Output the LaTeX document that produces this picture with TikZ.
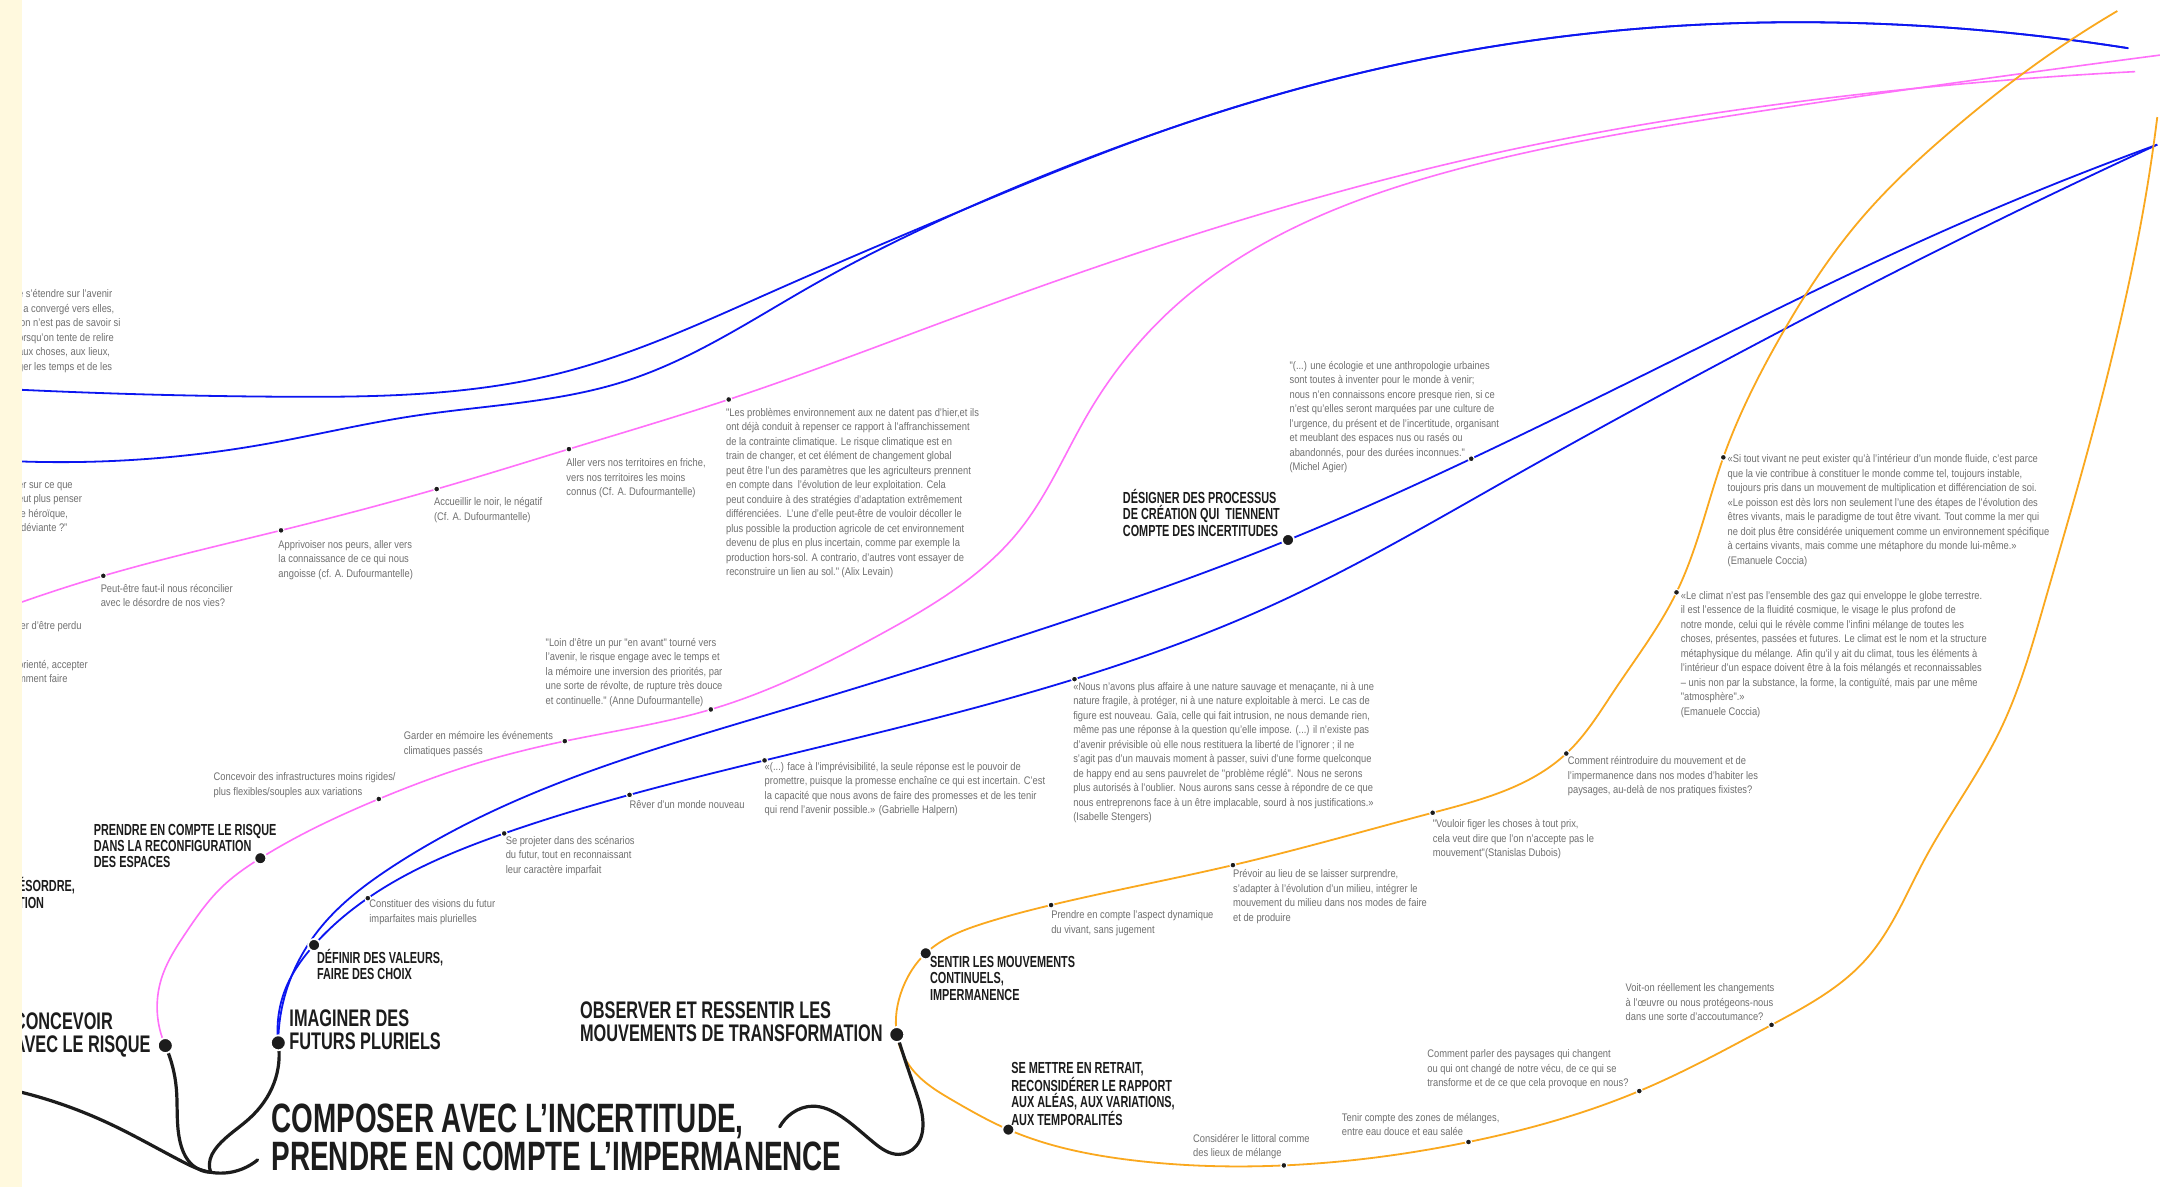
\documentclass[tikz,border=0pt]{standalone}
\usepackage{fontspec}
\usepackage{tikz}
\usetikzlibrary{hobby}
\newfontfamily\notefont[FakeStretch=0.85]{Liberation Sans}
\newfontfamily\headfont[FakeStretch=0.68]{Liberation Sans Bold}
\definecolor{ink}{RGB}{28,28,28}
\definecolor{notegrey}{RGB}{112,112,112}
\definecolor{futurblue}{RGB}{12,22,240}
\definecolor{risquepink}{RGB}{255,112,250}
\definecolor{mouvorange}{RGB}{250,168,30}
\definecolor{marge}{RGB}{255,249,222}
\pgfdeclarelayer{bg}
\pgfdeclarelayer{fg}
\pgfsetlayers{bg,main,fg}

\begin{document}
\begin{tikzpicture}[x=1.3776pt, y=-1.3776pt,
    hub/.style={circle, fill=ink, draw=white, line width=1.8pt, inner sep=0pt, minimum size=15pt},
    pin/.style={circle, fill=ink, draw=white, line width=1.1pt, inner sep=0pt, minimum size=6pt}]
    \tikzset{note/.style={anchor=north west, inner sep=0pt, align=left, text=notegrey, font=\notefont\fontsize{11}{14.5}\selectfont}}
    \tikzset{head/.style={anchor=north west, inner sep=0pt, align=left, text=ink, font=\headfont\fontsize{16}{16.3}\selectfont},
    big/.style={head, font=\headfont\fontsize{24}{22.7}\selectfont},
    futur/.style={draw=futurblue, line width=1.8pt, use Hobby shortcut},
    risque/.style={draw=risquepink, line width=1.6pt, use Hobby shortcut},
    mouv/.style={draw=mouvorange, line width=1.8pt, use Hobby shortcut},
    cord/.style={draw=ink, line width=3.2pt, line cap=round, use Hobby shortcut}}

    \useasboundingbox (0,0) rectangle (1568,862);

    % hubs
    \node[hub] (concevoir) at (120,759) {};
    \node[hub] (imaginer) at (202,757) {};
    \node[hub] (observer) at (651,751) {};
    \node[hub, minimum size=12pt] (prendre) at (189,623) {};
    \node[hub, minimum size=12pt] (definir) at (228,686) {};
    \node[hub, minimum size=12pt] (designer) at (935,392) {};
    \node[hub, minimum size=12pt] (sentir) at (672,692) {};
    \node[hub, minimum size=12pt] (retrait) at (732,820) {};

    % pins
    \node[pin] (k1) at (75,418) {};
    \node[pin] (k2) at (204,385) {};
    \node[pin] (k3) at (317,355) {};
    \node[pin] (k4) at (413,326) {};
    \node[pin] (k5) at (529,290) {};
    \node[pin] (m1) at (275,580) {};
    \node[pin] (m2) at (410,538) {};
    \node[pin] (m3) at (516,515) {};
    \node[pin] (f1) at (267,652) {};
    \node[pin] (f2) at (366,605) {};
    \node[pin] (f3) at (457,577) {};
    \node[pin] (f4) at (555,552) {};
    \node[pin] (f5) at (780,493) {};
    \node[pin] (g1) at (1068,333) {};
    \node[pin] (o1) at (1251,332) {};
    \node[pin] (o2) at (1217,430) {};
    \node[pin] (o3) at (1137,547) {};
    \node[pin] (o4) at (1040,590) {};
    \node[pin] (o5) at (895,628) {};
    \node[pin] (o6) at (763,657) {};
    \node[pin] (o7) at (932,846) {};
    \node[pin] (o8) at (1066,829) {};
    \node[pin] (o9) at (1190,792) {};
    \node[pin] (o10) at (1286,744) {};

    % free ends
    \coordinate (aS) at (16,283);
    \coordinate (bS) at (16,335);
    \coordinate (aJ) at (700,152);
    \coordinate (aE) at (1545,35);
    \coordinate (bE) at (1566,105);
    \coordinate (pS) at (16,437);
    \coordinate (pE) at (1550,52);
    \coordinate (pE2) at (1568,40);
    \coordinate (oS) at (1537,8);
    \coordinate (oE) at (1566,85);
    \coordinate (cordL) at (16,793);
    \coordinate (knot) at (153,851);
    \coordinate (cordT) at (187,842);
    \coordinate (cordR) at (566,818);

    \begin{pgfonlayer}{bg}
    \fill[white] (0,0) rectangle (1568,862);
    \draw[futur] (aS) .. (207,288) .. (406,271) .. (560,212) .. (aJ) .. (850,93) .. (1000,50) .. (1200,20) .. (1380,18) .. (aE);
    \draw[futur] (bS) .. (189,323) .. (300,302) .. (456,276) .. (590,207) .. (aJ) .. (850,93) .. (1000,50) .. (1200,20) .. (1380,18) .. (aE);
    \draw[futur] (imaginer.center) .. (207,722) .. (233,673) .. (285,629) .. (375,581) .. (560,518) .. (740,462) .. (designer.center) .. (g1.center) .. (1244,247) .. (1410,168) .. (bE);
    \draw[futur] (imaginer.center) .. (208,716) .. (definir.center) .. (f1.center) .. (f2.center) .. (f3.center) .. (f4.center) .. (f5.center) .. (922,440) .. (1100,345) .. (1280,247) .. (1420,175) .. (bE);
    \draw[risque] (pS) .. (k1.center) .. (k2.center) .. (k3.center) .. (k4.center) .. (k5.center) .. (700,228) .. (900,160) .. (1100,108) .. (1320,72) .. (pE);
    \draw[risque] (concevoir.center) .. (117,711) .. (135,677) .. (161,644) .. (prendre.center) .. (m1.center) .. (340,556) .. (m2.center) .. (m3.center) .. (640,460) .. (740,385) .. (790,300) .. (850,225) .. (930,170) .. (1050,125) .. (1250,85) .. (1420,60) .. (pE2);
    \draw[mouv] (oS) .. (1480,45) .. (1420,92) .. (1350,160) .. (1291,247) .. (o1.center) .. (o2.center) .. (1172,501) .. (o3.center) .. (o4.center) .. (o5.center) .. (o6.center) .. (715,670) .. (sentir.center) .. (655,718) .. (observer.center) .. (662,776) .. (692,799) .. (retrait.center) .. (820,842) .. (o7.center) .. (o8.center) .. (o9.center) .. (o10.center) .. (1354,697) .. (1397,624) .. (1452,530) .. (1484,438) .. (1512,340) .. (1540,230) .. (1558,140) .. (oE);
    \draw[cord] (cordL) .. (78,815) .. (130,842) .. (knot) .. (cordT);
    \draw[cord] (concevoir.center) .. (128,790) .. (131,830) .. (140,846) .. (knot);
    \draw[cord] (imaginer.center) .. (199,786) .. (181,812) .. (158,832) .. (152,845) .. (knot);
    \draw[cord] (observer.center) .. (664,790) .. (670,815) .. (665,832) .. (652,838) .. (635,830) .. (610,810) .. (590,803) .. (575,808) .. (cordR);
    \end{pgfonlayer}

    % headings
    \node[head, font=\headfont\fontsize{41}{38}\selectfont] (titre) at (197,801) {COMPOSER AVEC L’INCERTITUDE,\\PRENDRE EN COMPTE L’IMPERMANENCE};
    \node[big] (concevoirtxt) at (10,735) {CONCEVOIR\\AVEC LE RISQUE};
    \node[big] (imaginertxt) at (210,733) {IMAGINER DES\\FUTURS PLURIELS};
    \node[big] (observertxt) at (421,727) {OBSERVER ET RESSENTIR LES\\MOUVEMENTS DE TRANSFORMATION};
    \node[head] (designertxt) at (815,355) {DÉSIGNER DES PROCESSUS\\DE CRÉATION QUI~~TIENNENT\\COMPTE DES INCERTITUDES};
    \node[head] (prendretxt) at (68,598) {PRENDRE EN COMPTE LE RISQUE\\DANS LA RECONFIGURATION\\DES ESPACES};
    \node[head] (desordretxt) at (13,637) {ÉSORDRE,\\TION};
    \node[head] (definirtxt) at (230,689) {DÉFINIR DES VALEURS,\\FAIRE DES CHOIX};
    \node[head] (sentirtxt) at (675,694) {SENTIR LES MOUVEMENTS\\CONTINUELS,\\IMPERMANENCE};
    \node[head] (retraittxt) at (734,771) {SE METTRE EN RETRAIT,\\RECONSIDÉRER LE RAPPORT\\AUX ALÉAS, AUX VARIATIONS,\\AUX TEMPORALITÉS};

    % notes
    \node[note] (tl1) at (13,210) {e s’étendre sur l’avenir\\t a convergé vers elles,\\ion n’est pas de savoir si\\orsqu’on tente de relire\\aux choses, aux lieux,\\ger les temps et de les};
    \node[note] (tl2) at (13,350) {er sur ce que\\eut plus penser\\te héroïque,\\\hspace*{3pt}déviante ?”};
    \node[note] (tl3) at (13,451) {ter d’être perdu};
    \node[note] (tl4) at (13,479) {orienté, accepter\\mment faire};
    \node[note] (k1txt) at (73,424) {Peut-être faut-il nous réconcilier\\avec le désordre de nos vies?};
    \node[note] (k2txt) at (202,392) {Apprivoiser nos peurs, aller vers\\la connaissance de ce qui nous\\angoisse (cf. A. Dufourmantelle)};
    \node[note] (k3txt) at (315,361) {Accueillir le noir, le négatif\\(Cf. A. Dufourmantelle)};
    \node[note] (k4txt) at (411,333) {Aller vers nos territoires en friche,\\vers nos territoires les moins\\connus (Cf. A. Dufourmantelle)};
    \node[note] (k5txt) at (527,296) {"Les problèmes environnement aux ne datent pas d’hier,et ils\\ont déjà conduit à repenser ce rapport à l’affranchissement\\de la contrainte climatique. Le risque climatique est en\\train de changer, et cet élément de changement global\\peut être l’un des paramètres que les agriculteurs prennent\\en compte dans~~l’évolution de leur exploitation. Cela\\peut conduire à des stratégies d’adaptation extrêmement\\différenciées.~~L’une d’elle peut-être de vouloir décoller le\\plus possible la production agricole de cet environnement\\devenu de plus en plus incertain, comme par exemple la\\production hors-sol. A contrario, d’autres vont essayer de\\reconstruire un lien au sol." (Alix Levain)};
    \node[note] (m1txt) at (155,561) {Concevoir des infrastructures moins rigides/\\plus flexibles/souples aux variations};
    \node[note] (m2txt) at (293,531) {Garder en mémoire les événements\\climatiques passés};
    \node[note] (m3txt) at (396,463) {"Loin d’être un pur "en avant" tourné vers\\l’avenir, le risque engage avec le temps et\\la mémoire une inversion des priorités, par\\une sorte de révolte, de rupture très douce\\et continuelle." (Anne Dufourmantelle)};
    \node[note] (f1txt) at (268,653) {Constituer des visions du futur\\imparfaites mais plurielles};
    \node[note] (f2txt) at (367,607) {Se projeter dans des scénarios\\du futur, tout en reconnaissant\\leur caractère imparfait};
    \node[note] (f3txt) at (457,581) {Rêver d’un monde nouveau};
    \node[note] (f4txt) at (555,553) {«(...) face à l’imprévisibilité, la seule réponse est le pouvoir de\\promettre, puisque la promesse enchaîne ce qui est incertain. C’est\\la capacité que nous avons de faire des promesses et de les tenir\\qui rend l’avenir possible.» (Gabrielle Halpern)};
    \node[note] (f5txt) at (779,495) {«Nous n’avons plus affaire à une nature sauvage et menaçante, ni à une\\nature fragile, à protéger, ni à une nature exploitable à merci. Le cas de\\figure est nouveau. Gaïa, celle qui fait intrusion, ne nous demande rien,\\même pas une réponse à la question qu’elle impose. (...) il n’existe pas\\d’avenir prévisible où elle nous restituera la liberté de l’ignorer ; il ne\\s’agit pas d’un mauvais moment à passer, suivi d’une forme quelconque\\de happy end au sens pauvrelet de "problème réglé". Nous ne serons\\plus autorisés à l’oublier. Nous aurons sans cesse à répondre de ce que\\nous entreprenons face à un être implacable, sourd à nos justifications.»\\(Isabelle Stengers)};
    \node[note] (g1txt) at (936,262) {"(...) une écologie et une anthropologie urbaines\\sont toutes à inventer pour le monde à venir;\\nous n’en connaissons encore presque rien, si ce\\n’est qu’elles seront marquées par une culture de\\l’urgence, du présent et de l’incertitude, organisant\\et meublant des espaces nus ou rasés ou\\abandonnés, pour des durées inconnues."\\(Michel Agier)};
    \node[note] (o1txt) at (1254,330) {«Si tout vivant ne peut exister qu’à l’intérieur d’un monde fluide, c’est parce\\que la vie contribue à constituer le monde comme tel, toujours instable,\\toujours pris dans un mouvement de multiplication et différenciation de soi.\\«Le poisson est dès lors non seulement l’une des étapes de l’évolution des\\êtres vivants, mais le paradigme de tout être vivant. Tout comme la mer qui\\ne doit plus être considérée uniquement comme un environnement spécifique\\à certains vivants, mais comme une métaphore du monde lui-même.»\\(Emanuele Coccia)};
    \node[note] (o2txt) at (1220,429) {«Le climat n’est pas l’ensemble des gaz qui enveloppe le globe terrestre.\\il est l’essence de la fluidité cosmique, le visage le plus profond de\\notre monde, celui qui le révèle comme l’infini mélange de toutes les\\choses, présentes, passées et futures. Le climat est le nom et la structure\\métaphysique du mélange. Afin qu’il y ait du climat, tous les éléments à\\l’intérieur d’un espace doivent être à la fois mélangés et reconnaissables\\– unis non par la substance, la forme, la contiguïté, mais par une même\\"atmosphère".»\\(Emanuele Coccia)};
    \node[note] (o3txt) at (1138,549) {Comment réintroduire du mouvement et de\\l’impermanence dans nos modes d’habiter les\\paysages, au-delà de nos pratiques fixistes?};
    \node[note] (o4txt) at (1040,595) {"Vouloir figer les choses à tout prix,\\cela veut dire que l’on n’accepte pas le\\mouvement"(Stanislas Dubois)};
    \node[note] (o5txt) at (895,631) {Prévoir au lieu de se laisser surprendre,\\s’adapter à l’évolution d’un milieu, intégrer le\\mouvement du milieu dans nos modes de faire\\et de produire};
    \node[note] (o6txt) at (763,661) {Prendre en compte l’aspect dynamique\\du vivant, sans jugement};
    \node[note] (o10txt) at (1180,714) {Voit-on réellement les changements\\à l’œuvre ou nous protégeons-nous\\dans une sorte d’accoutumance?};
    \node[note] (o9txt) at (1036,762) {Comment parler des paysages qui changent\\ou qui ont changé de notre vécu, de ce qui se\\transforme et de ce que cela provoque en nous?};
    \node[note] (o8txt) at (974,808) {Tenir compte des zones de mélanges,\\entre eau douce et eau salée};
    \node[note] (o7txt) at (866,823) {Considérer le littoral comme\\des lieux de mélange};

    \begin{pgfonlayer}{fg}
    \fill[marge] (0,0) rectangle (16,862);
    \end{pgfonlayer}
\end{tikzpicture}
\end{document}
